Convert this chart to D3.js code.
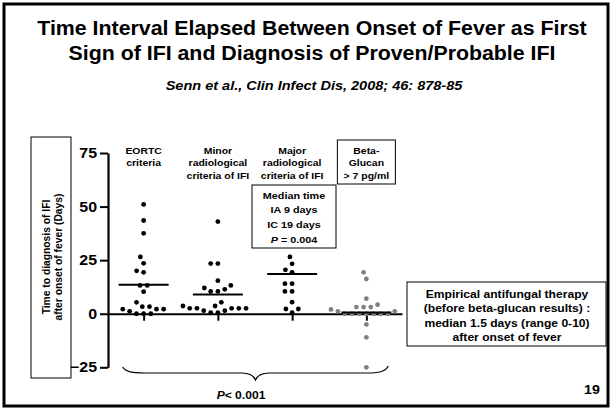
<!DOCTYPE html>
<html><head><meta charset="utf-8">
<script src="https://cdn.jsdelivr.net/npm/d3@7"></script>
<style>body{margin:0;background:#fff}svg{display:block}text{font-family:"Liberation Sans",Arial,sans-serif;font-weight:bold;fill:#000}</style>
</head><body>
<svg id="chart" width="612" height="409"></svg>
<script>
// ---- data ----
const categories = ["EORTC", "Minor", "Major", "Beta-Glucan"];
const categoryLabels = [["EORTC", "criteria"], ["Minor", "radiological", "criteria of IFI"], ["Major", "radiological", "criteria of IFI"], ["Beta-", "Glucan", "> 7 pg/ml"]];
const eortcValues = [51, 43.5, 37.5, 26.5, 23.5, 20, 19.3, 13.2, 13.2, 10.3, 5.3, 3.3, 3.3, 2.1, 2.1, 2.1, 1.1, 0, 0, 0];
const minorValues = [43, 23.4, 23.4, 15.4, 13.2, 12, 11.4, 10.4, 10.4, 5.3, 3.6, 3.6, 2.5, 2.5, 2.5, 2.5, 2.5, 1.4, 1.4, 0.5, 0.5];
const majorValues = [26.5, 23.3, 20.5, 19.3, 14, 14, 10.4, 10.4, 5.4, 2.2, 2.2, 0.5];
const betaGlucanValues = [19.3, 16.2, 7, 4.2, 3.1, 3.1, 3.1, 2, 1.1, 1.1, 0, 0, 0, 0, 0, 0, 0, -5, -11, -25];
const medianValues = [13.5, 9, 18.5, 0.6];
const seriesColors = ["#000", "#000", "#000", "#808080"];
const yTicks = [-25, 0, 25, 50, 75];
const titleLines = ["Time Interval Elapsed Between Onset of Fever as First", "Sign of IFI and Diagnosis of Proven/Probable IFI"];
const subtitle = "Senn et al., Clin Infect Dis, 2008; 46: 878-85";
const yLabelLines = ["Time to diagnosis of IFI", "after onset of fever (Days)"];
const medianNote = ["Median time", "IA 9 days", "IC 19 days", "P = 0.004"];
const empiricalNote = ["Empirical antifungal therapy", "(before beta-glucan results) :", "median 1.5 days (range 0-10)", "after onset of fever"];
const pValueText = "< 0.001";
const pageNumber = "19";

const allSeries = [eortcValues, minorValues, majorValues, betaGlucanValues];

// ---- setup ----
const SX = 1.1; // horizontal stretch of the slide
const svg = d3.select("#chart");
function txt(g, x, y, s, size, opts = {}) {
  const t = g.append("text")
    .attr("transform", `translate(${x},${y}) scale(${SX},1)` + (opts.rotate ? ` rotate(${opts.rotate})` : ""))
    .attr("text-anchor", opts.anchor || "middle")
    .style("font-size", size + "px");
  if (opts.italic) t.style("font-style", "italic");
  if (opts.baseline) t.attr("dominant-baseline", opts.baseline);
  t.text(s);
  return t;
}

// frame
svg.append("rect").attr("x", 4).attr("y", 4).attr("width", 604).attr("height", 402)
  .attr("fill", "none").attr("stroke", "#000").attr("stroke-width", 3);

// titles
titleLines.forEach((l, i) => txt(svg, 312, 35 + i * 24.5, l, 19.4));
txt(svg, 314, 90, subtitle, 13.2, { italic: true });

// scales
const y = d3.scaleLinear().domain([-25, 75]).range([367.3, 153]);
const x = d3.scalePoint().domain(categories).range([108, 402]).padding(0.48);

// y axis
const yAxis = svg.append("g").attr("transform", "translate(108,0)")
  .call(d3.axisLeft(y).tickValues(yTicks).tickSize(8).tickSizeOuter(0).tickPadding(2));
yAxis.select(".domain").attr("stroke-width", 2.2);
yAxis.selectAll(".tick line").attr("stroke-width", 2);
yAxis.selectAll(".tick text").attr("transform", `scale(${SX},1)`)
  .style("font-size", "14.5px").style("font-weight", "bold").style("font-family", '"Liberation Sans",Arial,sans-serif');

// y label box
svg.append("rect").attr("x", 31).attr("y", 137).attr("width", 40).attr("height", 241)
  .attr("fill", "none").attr("stroke", "#000").attr("stroke-width", 1);
yLabelLines.forEach((l, i) => txt(svg, 45.5 + i * 12, 257, l, 10.3, { rotate: -90, baseline: "central" }));

// zero line (x axis)
const xAxis = svg.append("g").attr("transform", `translate(0,${y(0)})`)
  .call(d3.axisBottom(x).tickSize(7).tickSizeOuter(0).tickFormat(""));
xAxis.select(".domain").attr("stroke-width", 2.2);
xAxis.selectAll(".tick line").attr("stroke-width", 2);

// category labels
categoryLabels.forEach((lines, ci) => {
  lines.forEach((l, li) => txt(svg, x(categories[ci]), 154 + li * 12.3, l, 9.5));
});
// Beta-glucan box
svg.append("rect").attr("x", x(categories[3]) - 29).attr("y", 140).attr("width", 58).attr("height", 44)
  .attr("fill", "none").attr("stroke", "#000").attr("stroke-width", 1);

// beeswarm
function swarm(values, cx, D) {
  const placed = [];
  const order = values.map((v, i) => ({ v, i })).sort((a, b) => a.v - b.v);
  for (const p of order) {
    const py = y(p.v);
    const iv = [];
    for (const q of placed) {
      const dy = Math.abs(q.y - py);
      if (dy < D) { const h = Math.sqrt(D * D - dy * dy); iv.push([q.x - h, q.x + h]); }
    }
    const cands = [cx];
    iv.forEach(([a, b]) => cands.push(a, b));
    cands.sort((a, b) => (Math.abs(a - cx) - Math.abs(b - cx)) || (a - b));
    let xx = cx;
    for (const c of cands) {
      if (iv.every(([a, b]) => c <= a + 1e-6 || c >= b - 1e-6)) { xx = c; break; }
    }
    placed.push({ x: xx, y: py, v: p.v });
  }
  return placed;
}

allSeries.forEach((vals, si) => {
  const pts = swarm(vals, x(categories[si]), 7.2);
  svg.append("g").selectAll("circle").data(pts).join("circle")
    .attr("cx", d => d.x).attr("cy", d => d.y).attr("r", 2.4).attr("fill", seriesColors[si]);
});

// median lines
svg.append("g").selectAll("line").data(medianValues).join("line")
  .attr("x1", (d, i) => x(categories[i]) - 25).attr("x2", (d, i) => x(categories[i]) + 25)
  .attr("y1", d => y(d)).attr("y2", d => y(d))
  .attr("stroke", "#000").attr("stroke-width", 2);

// median note box
const mbx = 252, mby = 185;
svg.append("rect").attr("x", mbx).attr("y", mby).attr("width", 84).attr("height", 63)
  .attr("fill", "#fff").attr("stroke", "#000").attr("stroke-width", 1);
medianNote.forEach((l, i) => {
  if (i === 3) {
    const t = txt(svg, 294, 198.5 + i * 14.8, "", 9.8);
    t.append("tspan").style("font-style", "italic").text("P");
    t.append("tspan").text(" = 0.004");
  } else txt(svg, 294, 198.5 + i * 14.8, l, 9.8);
});

// empirical note box
svg.append("rect").attr("x", 407).attr("y", 282).attr("width", 199).attr("height", 64)
  .attr("fill", "#fff").attr("stroke", "#000").attr("stroke-width", 1);
empiricalNote.forEach((l, i) => txt(svg, 507, 297.5 + i * 14.5, l, 11));

// brace
const bl = x(categories[0]) - 21, br = x(categories[3]) + 22, bm = (bl + br) / 2;
svg.append("path")
  .attr("d", `M${bl},367 C${bl + 3},372 ${bl + 10},373 ${bl + 22},373 L${bm - 14},373 C${bm - 6},373 ${bm - 2},375 ${bm},380 C${bm + 2},375 ${bm + 6},373 ${bm + 14},373 L${br - 22},373 C${br - 10},373 ${br - 3},372 ${br},366`)
  .attr("fill", "none").attr("stroke", "#000").attr("stroke-width", 1.2);
const pt = txt(svg, 241, 399, "", 11);
pt.append("tspan").style("font-style", "italic").text("P");
pt.append("tspan").text(pValueText);

txt(svg, 592, 394, pageNumber, 13);
</script>
</body></html>
